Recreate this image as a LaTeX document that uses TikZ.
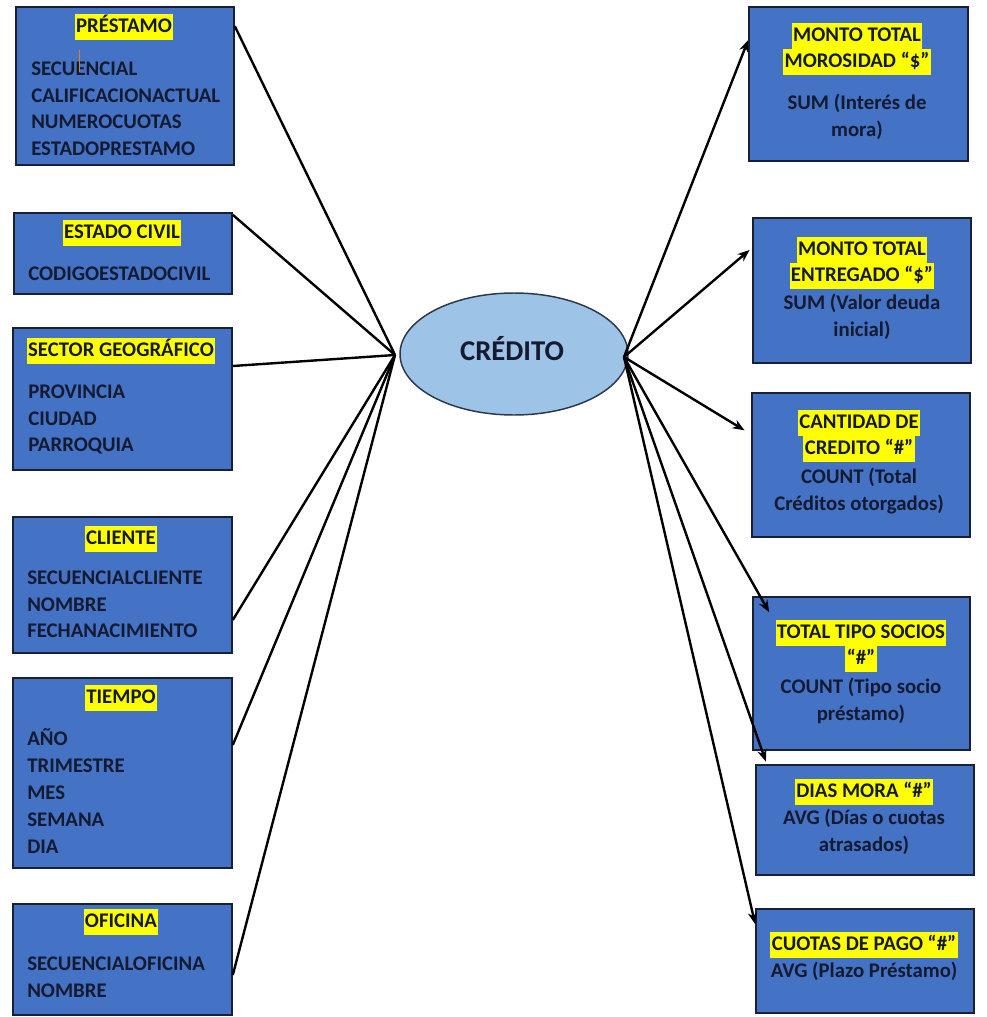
\documentclass[tikz,border=0pt]{standalone}
\usepackage{fontspec}
\setmainfont{Carlito}
\usetikzlibrary{arrows.meta,shapes.geometric}
\definecolor{boxblue}{RGB}{68,114,196}
\definecolor{boxedge}{RGB}{26,32,52}
\definecolor{ink}{RGB}{20,26,48}
\definecolor{hiyellow}{RGB}{255,255,0}
\definecolor{ellfill}{RGB}{157,195,230}
\definecolor{elledge}{RGB}{45,55,75}
\begin{document}
\begin{tikzpicture}[x=0.75pt,y=-0.75pt,
  dimbox/.style 2 args={draw=boxedge,line width=1.2pt,fill=boxblue,
    minimum width={#1*0.75pt},minimum height={#2*0.75pt},inner sep=0pt},
  txt/.style={font=\bfseries\fontsize{15.6pt}{18pt}\selectfont,text=ink,
    inner sep=0pt,text height=12pt,text depth=3.5pt},
  item/.style={txt,anchor=west},
  hl/.style={txt,fill=hiyellow,inner xsep=1pt,inner ysep=2pt},
  link/.style={line width=1.8pt,black},
  arr/.style={link,-{Stealth[length=9pt,width=7pt]}}]

\fill[white] (0,0) rectangle (987,1017);
\useasboundingbox (0,0) rectangle (987,1017);

% central fact
\node[ellipse,draw=elledge,line width=1.1pt,fill=ellfill,
  minimum width={228*0.75pt},minimum height={122*0.75pt}] (cred) at (514,354) {};
\node[font=\bfseries\fontsize{21.5pt}{24pt}\selectfont,text=ink,inner sep=0pt] (credlbl) at (512,349) {CRÉDITO};
\coordinate (lhub) at (395,355);
\coordinate (rhub) at (624,357);

% ---------- dimensions (left) ----------
\node[dimbox={218}{158}] (prest) at (125,86) {};
\node[hl] (prestT) at (124,27) {PRÉSTAMO};
\foreach \t [count=\i] in {SECUENCIAL,CALIFICACIONACTUAL,NUMEROCUOTAS,ESTADOPRESTAMO}
  \node[item] (prest-\i) at (31,{70+26.5*(\i-1)}) {\t};
\draw[orange!60!brown,line width=0.6pt] (79,50) -- (79,72);

\node[dimbox={218}{81}] (ecivil) at (123,253.5) {};
\node[hl] (ecivilT) at (122,233) {ESTADO CIVIL};
\node[item] (ecivil-1) at (28,275) {CODIGOESTADOCIVIL};

\node[dimbox={219}{142}] (sector) at (122.5,399) {};
\node[hl] (sectorT) at (121,351) {SECTOR GEOGRÁFICO};
\foreach \t [count=\i] in {PROVINCIA,CIUDAD,PARROQUIA}
  \node[item] (sector-\i) at (28,{393+26.5*(\i-1)}) {\t};

\node[dimbox={219}{136}] (cliente) at (122.5,585) {};
\node[hl] (clienteT) at (121,539) {CLIENTE};
\foreach \t [count=\i] in {SECUENCIALCLIENTE,NOMBRE,FECHANACIMIENTO}
  \node[item] (cliente-\i) at (27,{579+26.5*(\i-1)}) {\t};

\node[dimbox={219}{190}] (tiempo) at (122.5,773) {};
\node[hl] (tiempoT) at (121,698) {TIEMPO};
\foreach \t [count=\i] in {AÑO,TRIMESTRE,MES,SEMANA,DIA}
  \node[item] (tiempo-\i) at (27,{740+27*(\i-1)}) {\t};

\node[dimbox={219}{111}] (oficina) at (122.5,959.5) {};
\node[hl] (oficinaT) at (121,922) {OFICINA};
\foreach \t [count=\i] in {SECUENCIALOFICINA,NOMBRE}
  \node[item] (oficina-\i) at (27,{965+27*(\i-1)}) {\t};

% ---------- measures (right) ----------
\node[dimbox={219}{154}] (moros) at (858.5,84) {};
\node[hl] (morosT1) at (857,36) {MONTO TOTAL};
\node[hl] (morosT2) at (857,62) {MOROSIDAD “\$”};
\node[txt] (moros-1) at (857,104) {SUM (Interés de};
\node[txt] (moros-2) at (857,131) {mora)};

\node[dimbox={218}{145}] (entreg) at (862,290.5) {};
\node[hl] (entregT1) at (862,250) {MONTO TOTAL};
\node[hl] (entregT2) at (862,276) {ENTREGADO “\$”};
\node[txt] (entreg-1) at (862,304) {SUM (Valor deuda};
\node[txt] (entreg-2) at (862,331) {inicial)};

\node[dimbox={218}{144}] (cant) at (861,465) {};
\node[hl] (cantT1) at (859,423) {CANTIDAD DE};
\node[hl] (cantT2) at (859,449) {CREDITO “\#”};
\node[txt] (cant-1) at (859,478) {COUNT (Total};
\node[txt] (cant-2) at (859,505) {Créditos otorgados)};

\node[dimbox={217}{153}] (tipo) at (861.5,673.5) {};
\node[hl] (tipoT1) at (861,633) {TOTAL TIPO SOCIOS};
\node[hl] (tipoT2) at (861,659) {“\#”};
\node[txt] (tipo-1) at (861,688) {COUNT (Tipo socio};
\node[txt] (tipo-2) at (861,715) {préstamo)};

\node[dimbox={218}{110}] (dias) at (865,820) {};
\node[hl] (diasT) at (864,792) {DIAS MORA “\#”};
\node[txt] (dias-1) at (864,819) {AVG (Días o cuotas};
\node[txt] (dias-2) at (864,846) {atrasados)};

\node[dimbox={218}{104}] (cuotas) at (865,961) {};
\node[hl] (cuotasT) at (864,945) {CUOTAS DE PAGO “\#”};
\node[txt] (cuotas-1) at (864,972) {AVG (Plazo Préstamo)};

% ---------- connectors ----------
\draw[link] ([yshift=-15pt]prest.north east) -- (lhub);
\draw[link] ([yshift=-2pt]ecivil.north east) -- (lhub);
\draw[link] ([yshift=24.75pt]sector.east) -- (lhub);
\draw[link] ([yshift=-26.25pt]cliente.east) -- (lhub);
\draw[link] ([yshift=21pt]tiempo.east) -- (lhub);
\draw[link] ([yshift=-11.6pt]oficina.east) -- (lhub);

\draw[arr] (rhub) -- ([yshift=33pt]moros.west);
\draw[arr] (rhub) -- ([xshift=-2pt,yshift=30.4pt]entreg.west);
\draw[arr] (rhub) -- ([xshift=-5pt,yshift=26pt]cant.west);
\draw[arr] (rhub) -- ([xshift=12.75pt,yshift=-12pt]tipo.north west);
\draw[arr] (rhub) -- ([xshift=8pt,yshift=2pt]dias.north west);
\draw[arr] (rhub) -- ([yshift=-12pt]cuotas.north west);
\end{tikzpicture}
\end{document}
